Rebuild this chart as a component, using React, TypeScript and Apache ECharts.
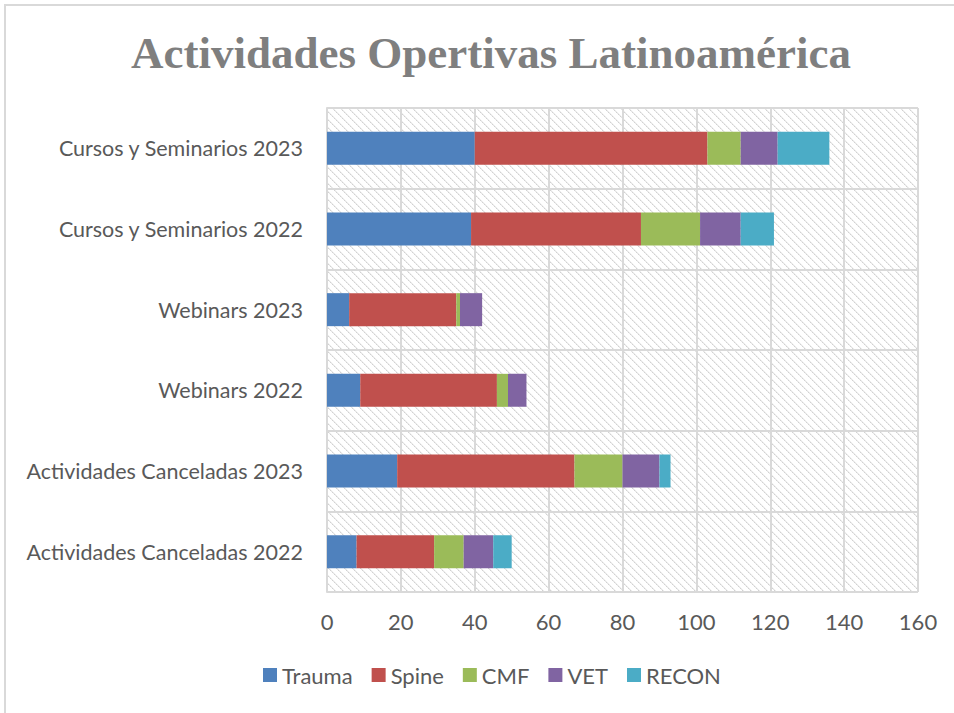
import React, { useEffect, useRef } from "react";
import * as echarts from "echarts";

const categories = [
  "Actividades Canceladas 2022",
  "Actividades Canceladas 2023",
  "Webinars 2022",
  "Webinars 2023",
  "Cursos y Seminarios 2022",
  "Cursos y Seminarios 2023",
];
const seriesNames = ["Trauma", "Spine", "CMF", "VET", "RECON"];
const trauma = [8, 19, 9, 6, 39, 40];
const spine = [21, 48, 37, 29, 46, 63];
const cmf = [8, 13, 3, 1, 16, 9];
const vet = [8, 10, 5, 6, 11, 10];
const recon = [5, 3, 0, 0, 9, 14];
const xTicks = [0, 20, 40, 60, 80, 100, 120, 140, 160];

const colors = ["#4F81BD", "#C0504D", "#9BBB59", "#8064A2", "#4BACC6"];

function makeHatch(): string {
  const n = 8;
  const c = document.createElement("canvas");
  c.width = n;
  c.height = n;
  const ctx = c.getContext("2d")!;
  ctx.fillStyle = "#ffffff";
  ctx.fillRect(0, 0, n, n);
  for (let i = 0; i < n; i++) {
    ctx.fillStyle = i % 2 === 0 ? "#d2d2d2" : "#e4e4e4";
    ctx.fillRect(i, i, 1, 1);
    ctx.fillStyle = "#eeeeee";
    ctx.fillRect((i + 1) % n, i, 1, 1);
  }
  return c.toDataURL();
}

export default function App() {
  const ref = useRef<HTMLDivElement>(null);
  useEffect(() => {
    document.body.style.margin = "0";
    const chart = echarts.init(ref.current!, undefined, { renderer: "svg" });
    const data = [trauma, spine, cmf, vet, recon];
    const hatch = makeHatch();
    chart.setOption({
      animation: false,
      backgroundColor: "#ffffff",
      title: {
        text: "Actividades Opertivas Latinoamérica",
        left: 126,
        top: 25,
        textStyle: {
          fontFamily: "Liberation Serif",
          fontWeight: "bold",
          fontSize: 45,
          color: "#7f7f7f",
        },
      },
      graphic: [
        {
          type: "rect",
          shape: { x: 5, y: 5, width: 1000, height: 1000 },
          style: { fill: "none", stroke: "#d9d9d9", lineWidth: 2 },
          silent: true,
        },
      ],
      grid: {
        left: 327,
        right: 36,
        top: 108,
        bottom: 121,
        show: true,
        backgroundColor: { image: hatch, repeat: "repeat" },
        borderWidth: 0,
      },
      legend: {
        data: seriesNames,
        top: 659,
        left: 258,
        itemWidth: 14,
        itemHeight: 14,
        itemGap: 19,
        icon: "rect",
        textStyle: { fontFamily: "Lato", fontSize: 22, color: "#595959" },
      },
      xAxis: {
        type: "value",
        min: 0,
        max: 160,
        interval: 20,
        axisLine: { show: false },
        axisTick: { show: false },
        axisLabel: {
          fontFamily: "Lato",
          fontSize: 22,
          color: "#595959",
          margin: 18,
          formatter: (v: number) => (xTicks.includes(v) ? String(v) : ""),
        },
        splitLine: { show: true, lineStyle: { color: "#d9d9d9", width: 2 } },
      },
      yAxis: {
        type: "category",
        data: categories,
        axisLine: { show: true, lineStyle: { color: "#d9d9d9", width: 2 } },
        axisTick: { show: false },
        axisLabel: {
          fontFamily: "Lato",
          fontSize: 21.5,
          color: "#595959",
          margin: 24,
        },
        splitLine: { show: true, lineStyle: { color: "#d9d9d9", width: 2 } },
      },
      series: seriesNames.map((name, i) => ({
        name,
        type: "bar",
        stack: "total",
        barWidth: 33,
        data: data[i],
        itemStyle: { color: colors[i] },
      })),
    });
    return () => chart.dispose();
  }, []);
  return <div ref={ref} style={{ width: 954, height: 713 }} />;
}
